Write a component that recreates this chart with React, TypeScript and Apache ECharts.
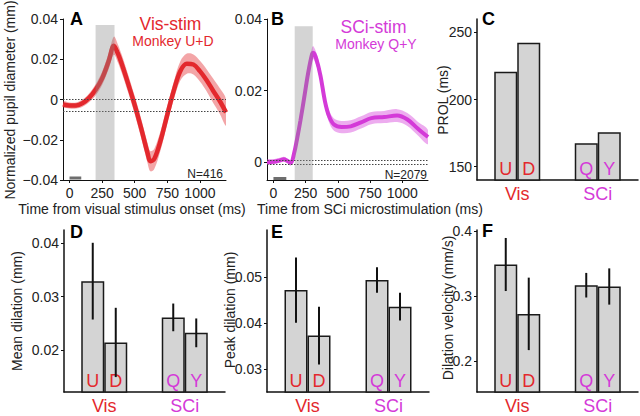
import React, { useEffect, useRef } from 'react';
import * as echarts from 'echarts';

const FONT = '"Liberation Sans", Arial, Helvetica, sans-serif';
const RED = '#e3282d';
const MAG = '#d43ad8';

// ---- Panel A: visual stimulation (Monkey U+D)
const visTime = [-50, 0, 50, 100, 150, 200, 250, 300, 340, 370, 400, 450, 500, 550, 600, 620, 650, 700, 750, 800, 850, 900, 950, 1000, 1050, 1100, 1150, 1200];
const visMean = [-0.0024, -0.003, -0.003, -0.0018, 0.0008, 0.0048, 0.0105, 0.019, 0.0267, 0.023, 0.0178, 0.0078, -0.0028, -0.0145, -0.027, -0.0307, -0.0295, -0.02, -0.0075, 0.0045, 0.0142, 0.0178, 0.0174, 0.0141, 0.0097, 0.0045, -0.0005, -0.0064];
const visSem = [0.0015, 0.0015, 0.0015, 0.0018, 0.0022, 0.0028, 0.0033, 0.004, 0.0045, 0.0045, 0.0045, 0.0045, 0.0045, 0.0048, 0.005, 0.005, 0.005, 0.0048, 0.0045, 0.0045, 0.0048, 0.005, 0.005, 0.0052, 0.0055, 0.006, 0.0063, 0.0065];
const visWindow = [200, 345];
const visCue = [0, 90];
const visBaseline = [0.0002, -0.0059];
const visN = 'N=416';

// ---- Panel B: SCi microstimulation (Monkey Q+Y)
const scTime = [-50, 0, 50, 80, 110, 135, 160, 185, 210, 240, 270, 300, 310, 335, 365, 400, 430, 470, 530, 600, 680, 760, 860, 960, 1040, 1120, 1200];
const scMean = [0, 0.0001, 0.0005, 0.0008, 0.0003, -0.0002, 0.0024, 0.0068, 0.0117, 0.0183, 0.025, 0.0302, 0.0306, 0.0286, 0.0242, 0.017, 0.013, 0.0105, 0.0098, 0.01, 0.0111, 0.0123, 0.0126, 0.013, 0.0119, 0.0094, 0.007];
const scSem = [0.0007, 0.0007, 0.0007, 0.0007, 0.0007, 0.0008, 0.0009, 0.001, 0.0012, 0.0014, 0.0015, 0.0018, 0.0018, 0.0018, 0.0017, 0.0017, 0.0017, 0.0017, 0.0017, 0.0017, 0.0017, 0.0017, 0.0017, 0.0018, 0.0018, 0.0019, 0.002];
const scWindow = [165, 305];
const scCue = [0, 100];
const scBaseline = [0.0006, -0.0005];
const scN = 'N=2079';

const timeTicks = [0, 250, 500, 750, 1000];

// ---- Bar panels (C-F)
const groups = ['Vis', 'SCi'];
const groupColors = [RED, MAG];
const firstMonkey = ['U', 'Q'];
const secondMonkey = ['D', 'Y'];

const prolFirst = [220.6, 167.3];
const prolSecond = [242.3, 175.6];

const meanDilFirst = [0.0329, 0.0261];
const meanDilSecond = [0.0214, 0.0232];
const meanDilErrFirst = [0.0072, 0.0026];
const meanDilErrSecond = [0.0065, 0.0027];

const peakDilFirst = [0.0472, 0.0494];
const peakDilSecond = [0.0373, 0.0436];
const peakDilErrFirst = [0.0071, 0.0028];
const peakDilErrSecond = [0.0063, 0.003];

const velFirst = [0.349, 0.317];
const velSecond = [0.2727, 0.315];
const velErrFirst = [0.041, 0.019];
const velErrSecond = [0.056, 0.028];

const minus = (v: number) => (v < 0 ? '\u2212' + String(Math.abs(v)) : String(v));

const BAR_W = 23;
const SMOOTH = 0.35;

function App() {
  const ref = useRef<HTMLDivElement>(null);

  useEffect(() => {
    if (!ref.current) return;
    const chart = echarts.init(ref.current, null, { renderer: 'svg' });

    const grids = [
      { left: 63, top: 19, width: 163, height: 161 },
      { left: 267, top: 19, width: 161, height: 161 },
      { left: 477, top: 19, width: 161, height: 161 },
      { left: 64, top: 230, width: 161, height: 162 },
      { left: 267, top: 230, width: 162, height: 162 },
      { left: 477, top: 230, width: 161, height: 162 },
    ];

    const axisLine = (w: number) => ({ show: true, onZero: false, lineStyle: { color: '#111', width: w } });
    const labelStyle = { fontFamily: FONT, fontSize: 14, color: '#222' };

    const timeX = (gi: number) => ({
      type: 'value', gridIndex: gi, min: -50, max: 1200,
      axisLine: axisLine(1), splitLine: { show: false },
      axisTick: { show: true, length: 3, customValues: timeTicks, lineStyle: { color: '#111' } },
      axisLabel: { ...labelStyle, margin: 6, customValues: timeTicks, formatter: (v: number) => String(v) },
    });
    const catX = (gi: number) => ({
      type: 'category', gridIndex: gi,
      data: groups.map((g, i) => ({ value: g, textStyle: { color: groupColors[i] } })),
      axisLine: axisLine(1.5), axisTick: { show: false }, splitLine: { show: false },
      axisLabel: { fontFamily: FONT, fontSize: 18, margin: 5 },
    });
    const valY = (gi: number, min: number, max: number, ticks: number[], lw = 1) => ({
      type: 'value', gridIndex: gi, min, max,
      axisLine: axisLine(lw), splitLine: { show: false },
      axisTick: { show: true, length: 3, customValues: ticks, lineStyle: { color: '#111' } },
      axisLabel: { ...labelStyle, margin: 5, customValues: ticks, formatter: minus },
    });

    const xAxis = [timeX(0), timeX(1), catX(2), catX(3), catX(4), catX(5)];
    const yAxis = [
      valY(0, -0.04, 0.04, [-0.04, -0.02, 0, 0.02, 0.04]),
      valY(1, -0.005, 0.04, [0, 0.02, 0.04]),
      valY(2, 140, 260, [150, 200, 250], 1.5),
      valY(3, 0.0121, 0.0425, [0.02, 0.03, 0.04], 1.5),
      valY(4, 0.025, 0.0603, [0.03, 0.04, 0.05], 1.5),
      valY(5, 0.152, 0.4023, [0.2, 0.3, 0.4], 1.5),
    ];

    const series: any[] = [];

    const curve = (gi: number, t: number[], m: number[], s: number[], color: string, band: string,
      win: number[], cue: number[], base: number[], yMin: number, winTop: number, cueY: number, lw: number) => {
      // SEM band as one polygon, built through the axis scales
      series.push({
        type: 'custom', xAxisIndex: gi, yAxisIndex: gi, z: 2, silent: true, clip: true,
        data: [[t[0], m[0]]],
        renderItem: (params: any, api: any) => {
          const upper = t.map((x, i) => api.coord([x, m[i] + s[i]]));
          const lower = t.map((x, i) => api.coord([x, m[i] - s[i]])).reverse();
          return {
            type: 'polygon',
            shape: { points: upper.concat(lower), smooth: SMOOTH },
            style: { fill: band },
          };
        },
      });
      series.push({
        type: 'line', xAxisIndex: gi, yAxisIndex: gi,
        data: t.map((x, i) => [x, m[i]]), symbol: 'none', smooth: SMOOTH,
        lineStyle: { color, width: lw }, z: 3, silent: true,
        markLine: {
          silent: true, symbol: 'none', label: { show: false }, precision: 6,
          lineStyle: { type: [1.5, 1.5], color: '#444', width: 1.1 },
          data: base.map((b) => ({ yAxis: b })),
        },
      });
      // gray analysis window (drawn over the curve, semi-transparent)
      series.push({
        type: 'custom', xAxisIndex: gi, yAxisIndex: gi, z: 6, silent: true,
        data: [[win[0], win[1], yMin, winTop]],
        renderItem: (params: any, api: any) => {
          const p1 = api.coord([api.value(0), api.value(3)]);
          const p2 = api.coord([api.value(1), api.value(2)]);
          return {
            type: 'rect',
            shape: { x: p1[0], y: p1[1], width: p2[0] - p1[0], height: p2[1] - p1[1] },
            style: { fill: 'rgba(135,135,135,0.36)' },
          };
        },
      });
      // stimulus cue bar
      series.push({
        type: 'line', xAxisIndex: gi, yAxisIndex: gi, z: 4, silent: true,
        data: cue.map((c) => [c, cueY]), symbol: 'none',
        lineStyle: { color: '#6e6e6e', width: 3 },
      });
    };

    curve(0, visTime, visMean, visSem, RED, 'rgba(227,40,45,0.42)', visWindow, visCue, visBaseline, -0.04, 0.037, -0.039, 4.5);
    curve(1, scTime, scMean, scSem, MAG, 'rgba(212,58,216,0.42)', scWindow, scCue, scBaseline, -0.005, 0.038, -0.0046, 4);

    const bars = (gi: number, a: number[], b: number[], ea?: number[], eb?: number[]) => {
      const mk = (vals: number[], names: string[]) => vals.map((v, i) => ({
        value: v,
        label: { formatter: names[i], color: groupColors[i] },
      }));
      const common = {
        type: 'bar', xAxisIndex: gi, yAxisIndex: gi, barWidth: BAR_W, barGap: '0%', silent: true,
        itemStyle: { color: '#d4d4d4', borderColor: '#1a1a1a', borderWidth: 1.5 },
        label: { show: true, position: 'insideBottom', distance: 3, fontFamily: FONT, fontSize: 18 },
        z: 2,
      };
      series.push({ ...common, data: mk(a, firstMonkey) });
      series.push({ ...common, data: mk(b, secondMonkey) });
      const err = (vals: number[], errs: number[], side: number) => {
        series.push({
          type: 'custom', xAxisIndex: gi, yAxisIndex: gi, z: 5, silent: true,
          data: vals.map((v, i) => [i, v - errs[i], v + errs[i]]),
          renderItem: (params: any, api: any) => {
            const p1 = api.coord([api.value(0), api.value(1)]);
            const p2 = api.coord([api.value(0), api.value(2)]);
            const off = side * BAR_W / 2;
            return {
              type: 'line',
              shape: { x1: p1[0] + off, y1: p1[1], x2: p2[0] + off, y2: p2[1] },
              style: { stroke: '#111', lineWidth: 2 },
            };
          },
        });
      };
      if (ea && eb) {
        err(a, ea, -1);
        err(b, eb, 1);
      }
    };

    bars(2, prolFirst, prolSecond);
    bars(3, meanDilFirst, meanDilSecond, meanDilErrFirst, meanDilErrSecond);
    bars(4, peakDilFirst, peakDilSecond, peakDilErrFirst, peakDilErrSecond);
    bars(5, velFirst, velSecond, velErrFirst, velErrSecond);

    const txt = (text: string, x: number, y: number, size: number, opts: any = {}) => ({
      type: 'text', x, y, rotation: opts.rotation || 0, silent: true, z: 100,
      style: {
        text, fontFamily: FONT, fontSize: size, fontWeight: opts.bold ? 'bold' : 'normal',
        fill: opts.color || '#222',
        align: opts.align || 'center', verticalAlign: 'middle',
        textAlign: opts.align || 'center', textVerticalAlign: 'middle',
      },
    });
    const R = Math.PI / 2;

    const graphic = [
      txt('A', 70, 19, 18, { bold: true, align: 'left', color: '#000' }),
      txt('B', 271, 19, 18, { bold: true, align: 'left', color: '#000' }),
      txt('C', 482, 19, 18, { bold: true, align: 'left', color: '#000' }),
      txt('D', 70, 232, 18, { bold: true, align: 'left', color: '#000' }),
      txt('E', 271, 232, 18, { bold: true, align: 'left', color: '#000' }),
      txt('F', 482, 231, 18, { bold: true, align: 'left', color: '#000' }),
      txt('Vis-stim', 170.5, 23.5, 17.5, { color: RED }),
      txt('Monkey U+D', 173, 40.5, 14, { color: RED }),
      txt('SCi-stim', 373.5, 26.5, 17.5, { color: MAG }),
      txt('Monkey Q+Y', 376, 43.5, 14, { color: MAG }),
      txt(visN, 223, 174, 12, { align: 'right' }),
      txt(scN, 427, 175, 12, { align: 'right' }),
      txt('Time from visual stimulus onset (ms)', 132, 209, 14),
      txt('Time from SCi microstimulation (ms)', 370, 209, 14),
      txt('Normalized pupil diameter (mm)', 10, 100, 14, { rotation: R }),
      txt('PROL (ms)', 443, 100, 14, { rotation: R }),
      txt('Mean dilation (mm)', 17, 311, 14, { rotation: R }),
      txt('Peak dilation (mm)', 230, 310, 14, { rotation: R }),
      txt('Dilation velocity (mm/s)', 448, 308, 14, { rotation: R }),
    ];

    chart.setOption({
      animation: false,
      backgroundColor: '#ffffff',
      textStyle: { fontFamily: FONT },
      grid: grids,
      xAxis,
      yAxis,
      series,
      graphic,
    });

    return () => chart.dispose();
  }, []);

  return (
    <div
      ref={ref}
      style={{ position: 'fixed', left: 0, top: 0, width: 640, height: 416, background: '#fff' }}
    />
  );
}

export default App;
